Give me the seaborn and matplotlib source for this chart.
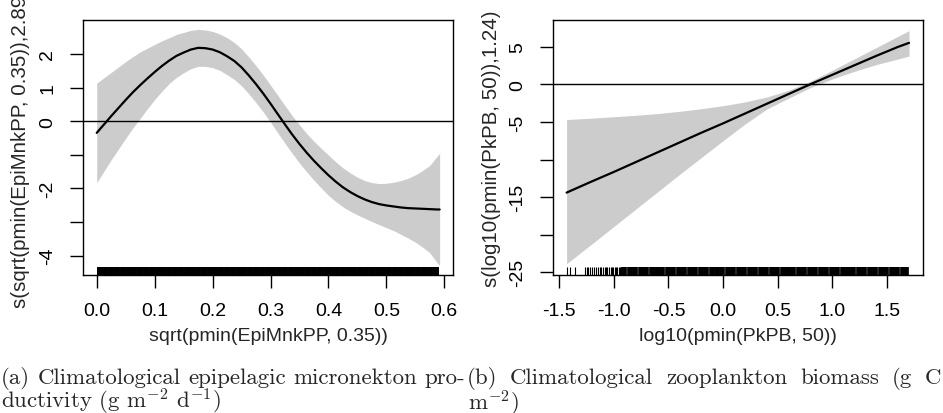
import seaborn as sns
import matplotlib.pyplot as plt

# panel (a): s(sqrt(pmin(EpiMnkPP, 0.35)), 2.89)
epi_x = [0.0, 0.0125, 0.025, 0.0375, 0.05, 0.0625, 0.075, 0.0875, 0.1, 0.1125,
         0.125, 0.1375, 0.15, 0.1625, 0.175, 0.1875, 0.2, 0.2125, 0.225, 0.2375,
         0.25, 0.2625, 0.275, 0.2875, 0.3, 0.3125, 0.325, 0.3375, 0.35, 0.3625,
         0.375, 0.3875, 0.4, 0.4125, 0.425, 0.4375, 0.45, 0.4625, 0.475, 0.4875,
         0.5, 0.5125, 0.525, 0.5375, 0.55, 0.5625, 0.575, 0.5875, 0.592]
epi_fit = [-0.35, -0.10, 0.15, 0.39, 0.63, 0.86, 1.07, 1.27, 1.46, 1.64,
           1.80, 1.94, 2.04, 2.13, 2.18, 2.17, 2.13, 2.05, 1.93, 1.79,
           1.60, 1.36, 1.10, 0.82, 0.52, 0.21, -0.10, -0.40, -0.68, -0.94,
           -1.18, -1.40, -1.61, -1.80, -1.97, -2.11, -2.23, -2.33, -2.41, -2.47,
           -2.51, -2.54, -2.57, -2.59, -2.60, -2.61, -2.62, -2.63, -2.63]
epi_hi = [1.13, 1.29, 1.45, 1.61, 1.77, 1.92, 2.06, 2.17, 2.28, 2.39,
          2.48, 2.58, 2.64, 2.70, 2.73, 2.71, 2.67, 2.59, 2.48, 2.34,
          2.15, 1.91, 1.65, 1.37, 1.07, 0.77, 0.46, 0.16, -0.11, -0.37,
          -0.60, -0.81, -1.01, -1.21, -1.39, -1.54, -1.67, -1.77, -1.83, -1.86,
          -1.85, -1.82, -1.77, -1.70, -1.60, -1.47, -1.32, -1.05, -0.96]
epi_lo = [-1.83, -1.49, -1.15, -0.83, -0.51, -0.20, 0.08, 0.37, 0.64, 0.89,
          1.12, 1.30, 1.44, 1.56, 1.63, 1.63, 1.59, 1.51, 1.38, 1.24,
          1.05, 0.81, 0.55, 0.27, -0.03, -0.35, -0.66, -0.96, -1.25, -1.51,
          -1.76, -1.99, -2.21, -2.39, -2.55, -2.68, -2.79, -2.89, -2.99, -3.08,
          -3.17, -3.26, -3.37, -3.48, -3.60, -3.75, -3.92, -4.21, -4.30]
epi_rug = [0.005, 0.015, 0.025, 0.035, 0.045, 0.055, 0.065, 0.075, 0.085, 0.095,
           0.105, 0.115, 0.125, 0.135, 0.145, 0.155, 0.165, 0.175, 0.185, 0.195,
           0.205, 0.215, 0.225, 0.235, 0.245, 0.255, 0.265, 0.275, 0.285, 0.295,
           0.305, 0.315, 0.325, 0.335, 0.345, 0.355, 0.365, 0.375, 0.385, 0.395,
           0.405, 0.415, 0.425, 0.435, 0.445, 0.455, 0.465, 0.475, 0.485, 0.495,
           0.505, 0.515, 0.525, 0.535, 0.545, 0.555, 0.565, 0.575, 0.585]
epi_xticks = [0.0, 0.1, 0.2, 0.3, 0.4, 0.5, 0.6]
epi_xlabels = ["0.0", "0.1", "0.2", "0.3", "0.4", "0.5", "0.6"]
epi_yticks = [-4, -3, -2, -1, 0, 1, 2]
epi_ylabels = ["-4", "", "-2", "", "0", "1", "2"]

# panel (b): s(log10(pmin(PkPB, 50)), 1.24)
pk_x = [-1.433, -1.2, -1.0, -0.8, -0.6, -0.4, -0.2, 0.0, 0.2, 0.4, 0.6, 0.8, 1.0,
        1.2, 1.4, 1.6, 1.704]
pk_fit = [-14.4, -12.9, -11.65, -10.35, -9.05, -7.75, -6.45, -5.2, -3.9, -2.6, -1.3,
          0.0, 1.25, 2.5, 3.75, 4.95, 5.5]
pk_hi = [-4.69, -4.5, -4.32, -4.12, -3.9, -3.6, -3.25, -2.85, -2.35, -1.7, -0.8,
         0.4, 1.85, 3.35, 4.85, 6.35, 7.12]
pk_lo = [-23.85, -21.2, -18.9, -16.6, -14.3, -12.0, -9.75, -7.5, -5.3, -3.3, -1.85,
         -0.45, 0.7, 1.7, 2.6, 3.35, 3.75]
pk_rug_sparse = [-1.433, -1.40, -1.356, -1.265, -1.25, -1.235, -1.215, -1.2,
                 -1.18, -1.165, -1.145, -1.13, -1.115, -1.1, -1.085, -1.07, -1.06,
                 -1.045, -1.03, -1.02, -1.005, -0.99, -0.98, -0.97, -0.955, -0.945,
                 -0.935]
pk_rug_dense = [-0.905, -0.855, -0.805, -0.755, -0.705,
                -0.655, -0.605, -0.555, -0.505, -0.455, -0.405, -0.355, -0.305,
                -0.255, -0.205, -0.155, -0.105, -0.055, -0.005, 0.045, 0.095,
                0.145, 0.195, 0.245, 0.295, 0.345, 0.395, 0.445, 0.495, 0.545,
                0.595, 0.645, 0.695, 0.745, 0.795, 0.845, 0.895, 0.945, 0.995,
                1.045, 1.095, 1.145, 1.195, 1.245, 1.295, 1.345, 1.395, 1.445,
                1.495, 1.545, 1.595, 1.645, 1.680]
pk_xticks = [-1.5, -1.0, -0.5, 0.0, 0.5, 1.0, 1.5]
pk_xlabels = ["-1.5", "-1.0", "-0.5", "0.0", "0.5", "1.0", "1.5"]
pk_yticks = [-25, -20, -15, -10, -5, 0, 5]
pk_ylabels = ["-25", "", "-15", "", "-5", "0", "5"]

caption_a1 = ["(a)", "Climatological", "epipelagic", "micronekton", "pro-"]
caption_a2 = r"ductivity (g $\mathrm{m}^{-2}$ $\mathrm{d}^{-1}$)"
caption_b1 = ["(b)", "Climatological", "zooplankton", "biomass", "(g", "C"]
caption_b2 = r"$\mathrm{m}^{-2}$)"

sns.set_style("ticks")
plt.rcParams['font.family'] = ['Liberation Sans', 'DejaVu Sans']
plt.rcParams['mathtext.fontset'] = 'cm'
plt.rcParams['axes.unicode_minus'] = False

W, H = 943, 414
fig = plt.figure(figsize=(W / 100, H / 100), dpi=100)


def panel(rect, x, fit, lo, hi, xlim, ylim, xt, xl, yt, yl, xlab, ylab, ylab_x):
    ax = fig.add_axes(rect)
    ax.fill_between(x, lo, hi, color="#cccccc", lw=0)
    sns.lineplot(x=x, y=fit, color="black", lw=1.6, ax=ax)
    ax.axhline(0, color="black", lw=1.0)
    ax.set_xlim(*xlim)
    ax.set_ylim(*ylim)
    ax.set_xticks(xt, xl)
    ax.set_yticks(yt, yl)
    ax.tick_params(direction="out", length=9.5, width=1.0, labelsize=14,
                   colors="black", pad=10)
    for t in ax.get_yticklabels():
        t.set_rotation(90)
        t.set_va("center")
    for s in ax.spines.values():
        s.set_linewidth(1.0)
        s.set_color("black")
    ax.set_xlabel(xlab, fontsize=14)
    ax.set_ylabel(ylab, fontsize=14.8)
    ax.xaxis.label.set_va("center")
    ax.xaxis.set_label_coords(0.5, -0.2356)
    ax.yaxis.label.set_va("center")
    ax.yaxis.set_label_coords(ylab_x, 0.5)
    return ax


bottom = 1 - 276 / H
height = 254.7 / H

ax1 = panel([83.3 / W, bottom, 370 / W, height], epi_x, epi_fit, epi_lo, epi_hi,
            (-0.0232, 0.6156), (-4.58, 3.0), epi_xticks, epi_xlabels,
            epi_yticks, epi_ylabels, "sqrt(pmin(EpiMnkPP, 0.35))",
            "s(sqrt(pmin(EpiMnkPP, 0.35)),2.89)", -0.171)
sns.rugplot(x=epi_rug, height=0.03, color="black", linewidth=4.3,
            expand_margins=False, ax=ax1)

ax2 = panel([553.3 / W, bottom, 369.4 / W, height], pk_x, pk_fit, pk_lo, pk_hi,
            (-1.555, 1.829), (-25.35, 8.5), pk_xticks, pk_xlabels,
            pk_yticks, pk_ylabels, "log10(pmin(PkPB, 50))",
            "s(log10(pmin(PkPB, 50)),1.24)", -0.166)
sns.rugplot(x=pk_rug_sparse, height=0.03, color="black", linewidth=0.8,
            expand_margins=False, ax=ax2)
sns.rugplot(x=pk_rug_dense, height=0.03, color="black", linewidth=4.1,
            expand_margins=False, ax=ax2)

CAP = dict(fontsize=16.5, family="cmr10", va="baseline")
renderer = fig.canvas.get_renderer()


def justified(words, x0, x1, y):
    texts = [fig.text(0, 1 - y / H, w, **CAP) for w in words]
    widths = [t.get_window_extent(renderer).width for t in texts]
    gap = (x1 - x0 - sum(widths)) / (len(words) - 1)
    pos = x0
    for t, w in zip(texts, widths):
        t.set_x(pos / W)
        pos += w + gap


justified(caption_a1, 1, 465, 384)
fig.text(1 / W, 1 - 409 / H, caption_a2, **CAP)
justified(caption_b1, 467, 941, 384)
fig.text(468 / W, 1 - 409 / H, caption_b2, **CAP)

fig.savefig("out.png", dpi=100)
